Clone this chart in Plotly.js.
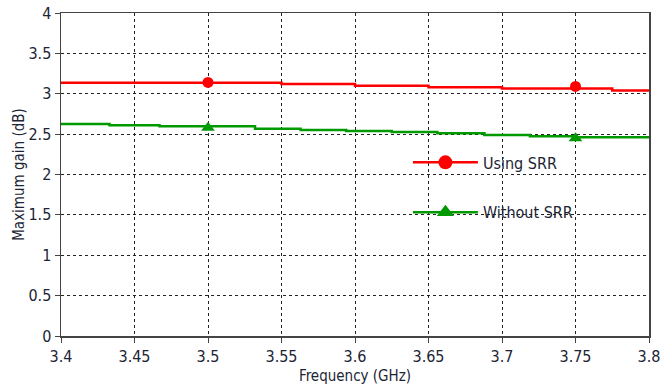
<!DOCTYPE html>
<html><head><meta charset="utf-8">
<script src="https://cdn.plot.ly/plotly-3.0.1.min.js"></script>
<style>html,body{margin:0;padding:0;background:#fff}#chart{width:672px;height:392px}</style>
</head><body><div id="chart"></div>
<script>
// Step-wise simulated curves
var freqSRR = [3.4, 3.55, 3.6, 3.65, 3.7, 3.775, 3.8];
var gainSRR = [3.137, 3.12, 3.10, 3.08, 3.066, 3.04, 3.04];
var freqNo = [3.4, 3.433, 3.467, 3.532, 3.563, 3.594, 3.625, 3.656, 3.688, 3.719, 3.75, 3.8];
var gainNo = [2.625, 2.609, 2.597, 2.567, 2.551, 2.539, 2.526, 2.510, 2.489, 2.473, 2.46, 2.46];
// Marker points
var markFreq = [3.5, 3.75];
var markSRR = [3.14, 3.09];
var markNo = [2.58, 2.45];
var names = ["Using SRR", "Without SRR"];

var red = "#ff0000", green = "#009a00";
var font = "'Liberation Sans Narrow', 'DejaVu Sans Condensed', sans-serif";
var txt = "#1c2535";
var data = [
  {x: freqSRR, y: gainSRR, mode: "lines", line: {color: red, width: 2.5, shape: "hv"}, showlegend: false, hoverinfo: "skip"},
  {x: freqNo, y: gainNo, mode: "lines", line: {color: green, width: 2.5, shape: "hv"}, showlegend: false, hoverinfo: "skip"},
  {x: markFreq, y: markSRR, mode: "markers", name: names[0], legendgroup: "a",
   marker: {color: red, size: 11, symbol: "circle"}, showlegend: false},
  {x: markFreq, y: markNo, mode: "markers", name: names[1], legendgroup: "b",
   marker: {color: green, size: 12, symbol: "triangle-up"}, showlegend: false},
  {x: [null], y: [null], mode: "lines+markers", name: names[0], legendgroup: "a",
   marker: {color: red, size: 14, symbol: "circle"}, line: {color: red, width: 2.5}},
  {x: [null], y: [null], mode: "lines+markers", name: names[1], legendgroup: "b",
   marker: {color: green, size: 15, symbol: "triangle-up"}, line: {color: green, width: 2.5}}
];
var axisCommon = {
  showline: true, linecolor: "#444", linewidth: 1.5, mirror: true,
  showgrid: true, gridcolor: "#222", griddash: "dot", gridwidth: 1,
  ticks: "outside", ticklen: 5, tickcolor: "#444", zeroline: false,
  tickfont: {family: font, size: 16, color: txt}
};
var layout = {
  width: 672, height: 392,
  margin: {l: 61, r: 23, t: 13, b: 56},
  paper_bgcolor: "#fff", plot_bgcolor: "#fff",
  showlegend: true,
  legend: {x: 0.59, y: 0.59, xanchor: "left", yanchor: "top", bgcolor: "rgba(0,0,0,0)",
           itemwidth: 65, tracegroupgap: 26, font: {family: font, size: 16, color: txt}},
  xaxis: Object.assign({}, axisCommon, {range: [3.4, 3.8], dtick: 0.05, tick0: 3.4,
    title: {text: "Frequency (GHz)", standoff: 6, font: {family: font, size: 15, color: txt}}}),
  yaxis: Object.assign({}, axisCommon, {range: [0, 4], dtick: 0.5,
    title: {text: "Maximum gain (dB)", standoff: 0, font: {family: font, size: 15, color: txt}}})
};
Plotly.newPlot("chart", data, layout, {staticPlot: true, displayModeBar: false});
</script></body></html>
